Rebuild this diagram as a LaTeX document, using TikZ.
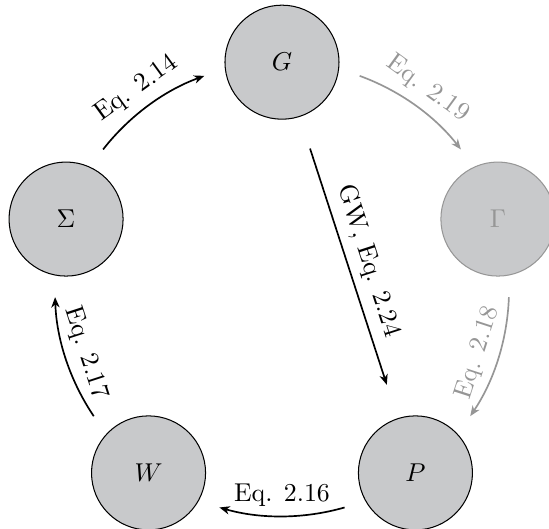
\documentclass[tikz,border=0pt]{standalone}
\usetikzlibrary{arrows.meta}
\definecolor{nodefill}{RGB}{200,201,203}
\definecolor{faded}{RGB}{150,150,150}
\begin{document}
\begin{tikzpicture}[
  st/.style={circle, draw=black, line width=0.4pt, fill=nodefill, minimum size=44.2pt, inner sep=0pt},
  fadedst/.style={st, draw=faded, text=faded},
  arr/.style={line width=0.65pt, -{Stealth[length=4pt,width=3.2pt,inset=1.2pt]}},
  fadedarr/.style={arr, draw=faded, text=faded},
  lab/.style={midway, sloped, above}
]
\useasboundingbox (0,0) rectangle (212.8pt,204.7pt);
\coordinate (O) at (109.3pt,92.6pt);
\def\R{88pt}
\node[st] (G) at ([shift={(90:\R)}]O) {$G$};
\node[fadedst] (Ga) at ([shift={(18:\R)}]O) {$\Gamma$};
\node[st] (P) at ([shift={(-54:\R)}]O) {$P$};
\node[st] (W) at ([shift={(-126:\R)}]O) {$W$};
\node[st] (S) at ([shift={(162:\R)}]O) {$\Sigma$};
% connectors (arcs on the pentagon's circumcircle)
\draw[arr] ([shift={(142:\R)}]O) arc[start angle=142, end angle=110, radius=\R] node[lab]{Eq. 2.14};
\draw[fadedarr] ([shift={(70:\R)}]O) arc[start angle=70, end angle=38, radius=\R] node[lab]{Eq. 2.19};
\draw[fadedarr] ([shift={(-2:\R)}]O) arc[start angle=-2, end angle=-34, radius=\R] node[lab]{Eq. 2.18};
\draw[arr] ([shift={(-74:\R)}]O) arc[start angle=-74, end angle=-106, radius=\R] node[lab]{Eq. 2.16};
\draw[arr] ([shift={(-146:\R)}]O) arc[start angle=-146, end angle=-178, radius=\R] node[lab]{Eq. 2.17};
\draw[arr, shorten <=12.9pt, shorten >=13.6pt] (G) -- (P) node[lab]{GW, Eq. 2.24};
\end{tikzpicture}
\end{document}
